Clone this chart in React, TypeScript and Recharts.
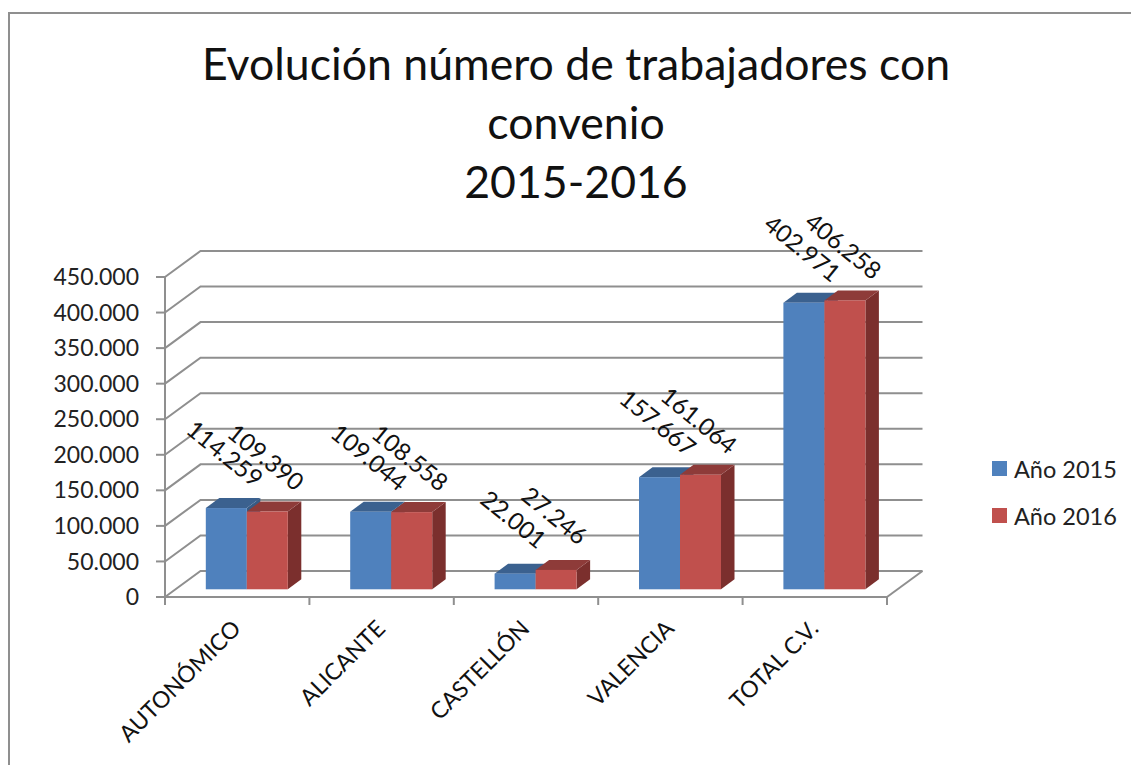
import React from "react";
import { BarChart, Bar, XAxis, YAxis, CartesianGrid, Legend, LabelList } from "recharts";

const categories = ["AUTONÓMICO", "ALICANTE", "CASTELLÓN", "VALENCIA", "TOTAL C.V."];
const values2015 = [114259, 109044, 22001, 157667, 402971];
const values2016 = [109390, 108558, 27246, 161064, 406258];
const yTicks = [0, 50000, 100000, 150000, 200000, 250000, 300000, 350000, 400000, 450000];
const titleLines = ["Evolución número de trabajadores con", "convenio", "2015-2016"];

const data = categories.map((name, i) => ({ name, y2015: values2015[i], y2016: values2016[i] }));

const FONT = "Lato, Carlito, sans-serif";
const GREY = "#8f8f8f";
const W = 1131;
const H = 765;
const PLOT = { left: 165, right: 887, top: 277, bottom: 597 };
const LEGEND_W = 135;
const BAND = (PLOT.right - PLOT.left) / categories.length;
const WALL = { dx: 35.5, dy: -26 };
const BAR_SHIFT = { dx: 9.8, dy: -7.7 };
const BAR_DEPTH = { dx: 13.5, dy: -10 };

const fmt = (v: number) => String(v).replace(/\B(?=(\d{3})+$)/g, ".");

function gridLine(p: any) {
  const { x1, x2, y1, index } = p;
  const bx1 = x1 + WALL.dx;
  const bx2 = x2 + WALL.dx;
  const by = y1 + WALL.dy;
  const isFloor = Math.abs(y1 - PLOT.bottom) < 1;
  return (
    <g key={`g-${index}`} stroke={GREY} strokeWidth={2} fill="none">
      <polyline points={`${x1},${y1} ${bx1},${by} ${bx2},${by}`} />
      {isFloor ? <line x1={x2} y1={y1} x2={bx2} y2={by} /> : null}
    </g>
  );
}

const barShape = (front: string, top: string, side: string) => (p: any) => {
  const x = p.x + BAR_SHIFT.dx;
  const y = p.y + BAR_SHIFT.dy;
  const w = p.width;
  const h = p.height;
  const { dx, dy } = BAR_DEPTH;
  return (
    <g>
      <polygon fill={side} points={`${x + w},${y} ${x + w + dx},${y + dy} ${x + w + dx},${y + h + dy} ${x + w},${y + h}`} />
      <polygon fill={top} points={`${x},${y} ${x + dx},${y + dy} ${x + w + dx},${y + dy} ${x + w},${y}`} />
      <rect x={x} y={y} width={w} height={h} fill={front} />
    </g>
  );
};

const valueLabel = (p: any) => {
  const cx = p.x + BAR_SHIFT.dx + p.width / 2 - 1;
  const cy = p.y + BAR_SHIFT.dy - 55;
  return (
    <text x={cx} y={cy} textAnchor="middle" dominantBaseline="central" fontFamily={FONT} fontSize={24} fill="#111"
      transform={`rotate(39 ${cx} ${cy})`}>
      {fmt(p.value)}
    </text>
  );
};

const xTick = (p: any) => {
  const { x, index, payload } = p;
  const tx = x - BAND / 2;
  const lx = x + 5;
  const ly = PLOT.bottom + 33;
  return (
    <g>
      <line x1={tx} y1={PLOT.bottom} x2={tx} y2={PLOT.bottom + 8} stroke={GREY} strokeWidth={2} />
      {index === categories.length - 1 ? (
        <line x1={tx + BAND} y1={PLOT.bottom} x2={tx + BAND} y2={PLOT.bottom + 8} stroke={GREY} strokeWidth={2} />
      ) : null}
      <text x={lx} y={ly} textAnchor="end" fontFamily={FONT} fontSize={23} fill="#111"
        transform={`rotate(-45 ${lx} ${ly})`}>
        {payload.value}
      </text>
    </g>
  );
};

const legendContent = (p: any) => (
  <div style={{ fontFamily: FONT, fontSize: 23.5, color: "#222" }}>
    {p.payload.map((e: any) => (
      <div key={e.value} style={{ display: "flex", alignItems: "center", height: 47 }}>
        <span style={{ width: 15, height: 15, background: e.color, marginRight: 7, display: "inline-block" }} />
        <span>{e.value}</span>
      </div>
    ))}
  </div>
);

export default function App() {
  return (
    <div style={{ position: "absolute", left: 0, top: 0, width: W, height: H, overflow: "hidden", background: "#fff" }}>
      <div style={{ position: "absolute", left: 8, top: 12, width: W, height: H, borderLeft: `2.5px solid ${GREY}`, borderTop: `2.5px solid ${GREY}` }} />
      <div style={{ position: "absolute", left: 0, width: 1152, top: 33, textAlign: "center", fontFamily: FONT, fontSize: 44.6, lineHeight: "59px", color: "#111" }}>
        {titleLines.map((l) => (
          <div key={l}>{l}</div>
        ))}
      </div>
      <div style={{ position: "absolute", left: 0, top: 0 }}>
        <BarChart
          width={W}
          height={H}
          data={data}
          barGap={0}
          barSize={41}
          margin={{ left: 0, right: W - PLOT.right - LEGEND_W, top: PLOT.top, bottom: 0 }}
        >
          <CartesianGrid vertical={false} horizontal={gridLine as any} />
          <XAxis
            dataKey="name"
            height={H - PLOT.bottom}
            interval={0}
            axisLine={{ stroke: GREY, strokeWidth: 2 }}
            tickLine={false}
            tick={xTick as any}
          />
          <YAxis
            width={PLOT.left}
            domain={[0, 450000]}
            ticks={yTicks}
            interval={0}
            tickFormatter={fmt}
            axisLine={{ stroke: GREY, strokeWidth: 2 }}
            tickLine={{ stroke: GREY, strokeWidth: 2 }}
            tickSize={9}
            tickMargin={17}
            tick={{ fontFamily: FONT, fontSize: 23, fill: "#222" }}
          />
          <Legend
            layout="horizontal"
            verticalAlign="middle"
            align="right"
            content={legendContent as any}
            wrapperStyle={{ position: "absolute", left: 992, top: 445, width: LEGEND_W, height: 100 }}
          />
          <Bar dataKey="y2015" name="Año 2015" fill="#4F81BD" isAnimationActive={false} shape={barShape("#4F81BD", "#3B618F", "#375B85") as any}>
            <LabelList dataKey="y2015" content={valueLabel as any} />
          </Bar>
          <Bar dataKey="y2016" name="Año 2016" fill="#C0504D" isAnimationActive={false} shape={barShape("#C0504D", "#8E3B39", "#7B2F2D") as any}>
            <LabelList dataKey="y2016" content={valueLabel as any} />
          </Bar>
        </BarChart>
      </div>
    </div>
  );
}
